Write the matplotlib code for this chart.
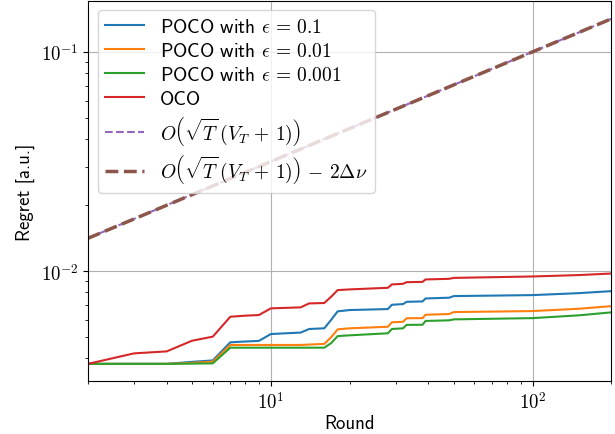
import math
import matplotlib
matplotlib.use('Agg')
import matplotlib.pyplot as plt
import matplotlib.ticker

# - fonts: CM sans for text, CM serif for maths
plt.rcParams['font.family'] = ['cmss10', 'DejaVu Sans']
plt.rcParams['mathtext.fontset'] = 'cm'
plt.rcParams['axes.unicode_minus'] = False
plt.rcParams['font.size'] = 13.5

# - data
rounds = [2, 3, 4, 5, 6, 7, 8, 9, 10, 13, 14, 16, 17, 18, 20, 28, 29, 32, 33, 38, 39, 48, 50, 100, 150, 200]
oco = [0.00378, 0.00422, 0.00431, 0.00482, 0.00503, 0.00620, 0.00627, 0.00631, 0.00677, 0.00684,
       0.00713, 0.00716, 0.00765, 0.00820, 0.00826, 0.00840, 0.00870, 0.00876, 0.00891, 0.00894,
       0.00917, 0.00923, 0.00932, 0.00946, 0.00960, 0.00976]
poco_1 = [0.00378, 0.00378, 0.00378, 0.00386, 0.00392, 0.00474, 0.00478, 0.00481, 0.00517, 0.00525,
          0.00545, 0.00549, 0.00600, 0.00656, 0.00665, 0.00672, 0.00703, 0.00708, 0.00725, 0.00728,
          0.00751, 0.00757, 0.00770, 0.00778, 0.00794, 0.00811]
poco_01 = [0.00378, 0.00378, 0.00378, 0.00382, 0.00387, 0.00461, 0.00461, 0.00461, 0.00461, 0.00461,
           0.00463, 0.00466, 0.00500, 0.00543, 0.00549, 0.00558, 0.00585, 0.00588, 0.00610, 0.00611,
           0.00633, 0.00638, 0.00651, 0.00658, 0.00674, 0.00693]
poco_001 = [0.00378, 0.00378, 0.00378, 0.00379, 0.00380, 0.00448, 0.00448, 0.00448, 0.00448, 0.00448,
            0.00448, 0.00448, 0.00470, 0.00506, 0.00510, 0.00521, 0.00545, 0.00549, 0.00569, 0.00570,
            0.00593, 0.00597, 0.00603, 0.00611, 0.00629, 0.00649]
rounds_bound = [2, 5, 10, 20, 50, 100, 200]
bound = [0.01414, 0.02236, 0.03162, 0.04472, 0.07071, 0.1, 0.14142]
bound_nu = [0.01412, 0.02234, 0.03160, 0.04470, 0.07069, 0.09998, 0.14140]

# - plot
fig = plt.figure(figsize=(6.15, 4.35), dpi=100)
ax = fig.add_axes([0.143, 0.122, 0.851, 0.874])

ax.plot(rounds, poco_1, color='C0', lw=1.5, label=r'POCO with $\epsilon\,=\,0.1$')
ax.plot(rounds, poco_01, color='C1', lw=1.5, label=r'POCO with $\epsilon\,=\,0.01$')
ax.plot(rounds, poco_001, color='C2', lw=1.5, label=r'POCO with $\epsilon\,=\,0.001$')
ax.plot(rounds, oco, color='C3', lw=1.5, label='OCO')
ax.plot(rounds_bound, bound, color='C4', lw=1.5, ls='--',
        label=r'$O\left(\sqrt{T}\,(V_T\,+\,1)\right)$')
ax.plot(rounds_bound, bound_nu, color='C5', lw=2.5, ls='--',
        label=r'$O\left(\sqrt{T}\,(V_T\,+\,1)\right)\,-\,2\Delta\nu$')

ax.set_xscale('log')
ax.set_yscale('log')
ax.set_xlim(2, 200)
ax.set_ylim(0.00316, 0.171)
ax.grid(True, which='major')

log_fmt = matplotlib.ticker.FuncFormatter(lambda x, p: r'$10^{%d}$' % round(math.log10(x)))
ax.xaxis.set_major_formatter(log_fmt)
ax.yaxis.set_major_formatter(log_fmt)
ax.xaxis.set_minor_formatter(matplotlib.ticker.NullFormatter())
ax.yaxis.set_minor_formatter(matplotlib.ticker.NullFormatter())

ax.set_xlabel('Round', labelpad=2)
ax.set_ylabel('Regret [a.u.]')
ax.legend(loc='upper left', fontsize=14, labelspacing=0.3)

fig.savefig('out.png', dpi=100)
